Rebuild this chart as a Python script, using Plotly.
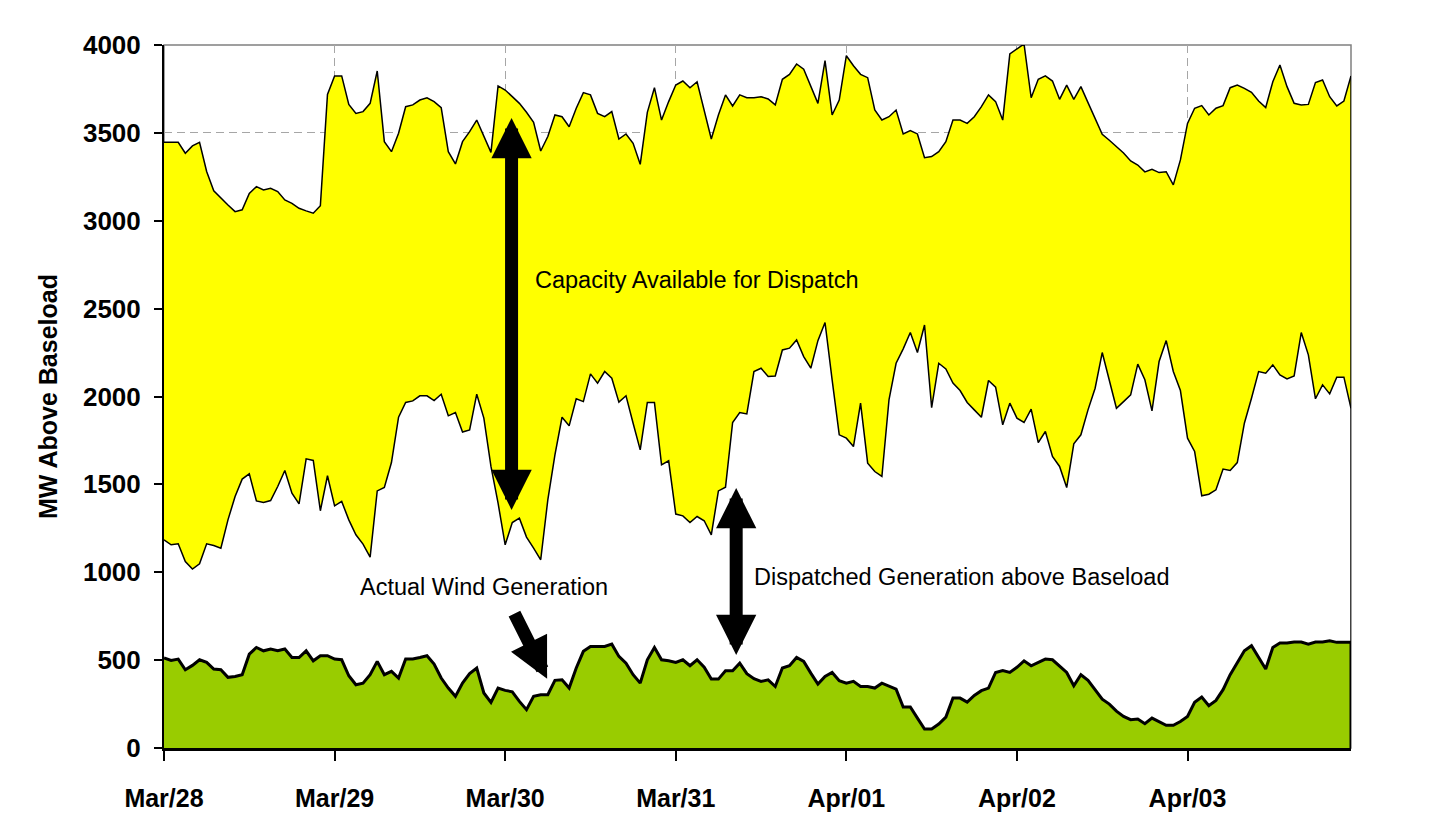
import plotly.graph_objects as go

hours = list(range(168))
day_ticks = [0, 24, 48, 72, 96, 120, 144]
day_labels = ["Mar/28", "Mar/29", "Mar/30", "Mar/31", "Apr/01", "Apr/02", "Apr/03"]

# Top of capacity available for dispatch (MW above baseload)
upper = [3446, 3446, 3446, 3384, 3426, 3446, 3280, 3170, 3128, 3090, 3052, 3062, 3156, 3194, 3175, 3185, 3166, 3118, 3099, 3071, 3056, 3043, 3086, 3719,
         3824, 3824, 3662, 3611, 3621, 3668, 3852, 3450, 3393, 3498, 3649, 3659, 3687, 3700, 3678, 3644, 3393, 3323, 3450, 3507, 3573, 3479, 3389, 3767,
         3744, 3706, 3668, 3617, 3560, 3397, 3479, 3602, 3592, 3535, 3640, 3729, 3716, 3611, 3592, 3621, 3465, 3494, 3441, 3321, 3617, 3757, 3573, 3678,
         3772, 3795, 3757, 3791, 3630, 3465, 3602, 3716, 3653, 3716, 3700, 3700, 3706, 3693, 3659, 3805, 3833, 3892, 3862, 3763, 3668, 3911, 3602, 3687,
         3939, 3882, 3833, 3814, 3630, 3573, 3592, 3630, 3494, 3513, 3494, 3359, 3365, 3393, 3450, 3573, 3573, 3554, 3592, 3649, 3716, 3678, 3573, 3949,
         3975, 4006, 3700, 3805, 3824, 3795, 3691, 3772, 3691, 3763, 3672, 3577, 3492, 3458, 3422, 3386, 3340, 3317, 3278, 3293, 3274, 3279, 3204, 3346,
         3554, 3640, 3655, 3602, 3640, 3655, 3757, 3772, 3753, 3731, 3681, 3644, 3791, 3886, 3763, 3668, 3659, 3662, 3786, 3801, 3706, 3653, 3681, 3824]

# Dispatched generation above baseload
lower = [1185, 1156, 1162, 1061, 1018, 1048, 1162, 1152, 1137, 1298, 1431, 1530, 1560, 1406, 1397, 1408, 1488, 1579, 1450, 1389, 1645, 1636, 1350, 1549,
         1378, 1403, 1298, 1213, 1160, 1086, 1463, 1482, 1624, 1882, 1966, 1975, 2004, 2004, 1977, 2013, 1890, 1909, 1798, 1810, 2013, 1877, 1602, 1393,
         1156, 1283, 1308, 1200, 1137, 1071, 1412, 1668, 1882, 1833, 1987, 1971, 2129, 2076, 2142, 2104, 1968, 2004, 1848, 1696, 1966, 1966, 1611, 1634,
         1331, 1321, 1283, 1317, 1293, 1213, 1463, 1484, 1852, 1909, 1901, 2142, 2161, 2114, 2117, 2265, 2275, 2322, 2227, 2161, 2318, 2421, 2095, 1782,
         1763, 1715, 1962, 1621, 1573, 1545, 1981, 2189, 2271, 2364, 2250, 2407, 1937, 2189, 2157, 2076, 2034, 1966, 1924, 1882, 2091, 2053, 1839, 1962,
         1877, 1852, 1928, 1738, 1801, 1659, 1602, 1482, 1731, 1782, 1924, 2047, 2250, 2095, 1933, 1971, 2009, 2184, 2095, 1918, 2199, 2318, 2142, 2034,
         1763, 1687, 1435, 1444, 1469, 1587, 1579, 1624, 1848, 1990, 2142, 2133, 2180, 2123, 2100, 2117, 2364, 2237, 1987, 2066, 2015, 2110, 2110, 1933]

# Actual wind generation
wind = [512, 498, 506, 445, 470, 502, 487, 449, 445, 402, 407, 417, 534, 572, 553, 563, 553, 563, 515, 515, 553, 496, 525, 525,
        506, 502, 411, 360, 369, 417, 493, 417, 436, 398, 506, 506, 515, 525, 478, 398, 341, 294, 370, 423, 455, 313, 260, 341,
        328, 320, 265, 218, 294, 303, 303, 385, 388, 341, 455, 550, 578, 578, 578, 591, 521, 483, 417, 369, 502, 572, 502, 496,
        487, 502, 468, 502, 460, 392, 392, 440, 440, 483, 423, 394, 379, 388, 350, 455, 468, 515, 493, 426, 364, 407, 430, 383,
        369, 379, 350, 350, 341, 369, 354, 335, 233, 233, 170, 108, 108, 136, 176, 284, 284, 261, 299, 326, 341, 430, 441, 430,
        459, 496, 468, 487, 506, 502, 468, 430, 354, 417, 385, 332, 278, 250, 210, 180, 161, 165, 138, 170, 151, 129, 129, 151,
        180, 260, 290, 241, 271, 332, 417, 487, 553, 582, 517, 449, 572, 597, 597, 603, 603, 591, 603, 603, 610, 601, 601, 601]

FONT = "Liberation Sans, Arial, sans-serif"

fig = go.Figure()
fig.add_trace(go.Scatter(x=hours, y=lower, mode="lines", fill="tozeroy", fillcolor="#FFFFFF",
                         line=dict(color="black", width=1.5), hoverinfo="skip", showlegend=False))
fig.add_trace(go.Scatter(x=hours, y=upper, mode="lines", fill="tonexty", fillcolor="#FFFF00",
                         line=dict(color="black", width=1.5), hoverinfo="skip", showlegend=False))
fig.add_trace(go.Scatter(x=hours, y=wind, mode="lines", fill="tozeroy", fillcolor="#99CC00",
                         line=dict(color="black", width=3), hoverinfo="skip", showlegend=False))

HEAD = 0.62
arrow_common = dict(xref="x", yref="y", axref="x", ayref="y", text="", showarrow=True,
                    arrowcolor="black", arrowwidth=13, standoff=0, startstandoff=0)
annotations = [
    dict(x=48.9, y=3585, ax=48.9, ay=1346, arrowhead=2, startarrowhead=2, arrowside="end+start",
         arrowsize=HEAD, startarrowsize=HEAD, **arrow_common),
    dict(x=80.5, y=1479, ax=80.5, ay=521, arrowhead=2, startarrowhead=2, arrowside="end+start",
         arrowsize=HEAD, startarrowsize=HEAD, **arrow_common),
    dict(x=53.9, y=394, ax=49.2, ay=773, arrowhead=2, arrowsize=HEAD, **arrow_common),
    dict(x=51.9, y=2663, xref="x", yref="y", text="Capacity Available for Dispatch", showarrow=False,
         xanchor="left", yanchor="middle", font=dict(family=FONT, size=23.5, color="black")),
    dict(x=27.3, y=917, xref="x", yref="y", text="Actual Wind Generation", showarrow=False,
         xanchor="left", yanchor="middle", font=dict(family=FONT, size=23.5, color="black")),
    dict(x=82.7, y=974, xref="x", yref="y", text="Dispatched Generation above Baseload", showarrow=False,
         xanchor="left", yanchor="middle", font=dict(family=FONT, size=23.5, color="black")),
]

# area borders closing the series at the right edge (Excel-style area outline)
edge_shapes = [
    dict(type="line", xref="x", yref="y", x0=hours[-1], x1=hours[-1], y0=0, y1=upper[-1],
         line=dict(color="black", width=1.5), layer="above"),
    dict(type="line", xref="x", yref="y", x0=hours[-1], x1=hours[-1], y0=0, y1=wind[-1],
         line=dict(color="black", width=3), layer="above"),
]

# the page body adds an 8px offset, so margins are set relative to that
fig.update_layout(
    width=1432, height=829,
    margin=dict(l=156, r=89, t=37, b=89, autoexpand=False),
    paper_bgcolor="white", plot_bgcolor="white",
    font=dict(family=FONT, color="black"),
    annotations=annotations,
    shapes=[dict(type="rect", xref="paper", yref="paper", x0=0, y0=0, x1=1, y1=1,
                 line=dict(color="#808080", width=1.5), layer="below")] + edge_shapes,
)
fig.update_xaxes(range=[0, 167], tickvals=day_ticks, ticktext=["<b>%s</b>" % s for s in day_labels],
                 automargin=False,
                 showgrid=True, gridcolor="#A6A6A6", griddash="8px,5px", gridwidth=1,
                 ticks="outside", ticklen=10, tickwidth=1.5, tickcolor="black",
                 showline=True, linecolor="black", linewidth=2.5, zeroline=False,
                 tickfont=dict(family=FONT, size=25, color="black"), ticklabelstandoff=16)
fig.update_yaxes(range=[0, 4000], dtick=500, tickformat="d", automargin=False,
                 tickprefix="<b>", ticksuffix="</b>",
                 showgrid=True, gridcolor="#A6A6A6", griddash="8px,5px", gridwidth=1,
                 ticks="outside", ticklen=8, tickwidth=1.5, tickcolor="black",
                 showline=True, linecolor="black", linewidth=2, zeroline=False,
                 tickfont=dict(family=FONT, size=26, color="black"), ticklabelstandoff=8,
                 title=dict(text="<b>MW Above Baseload</b>", font=dict(family=FONT, size=25, color="black"), standoff=18))

fig.write_html("out.html")
